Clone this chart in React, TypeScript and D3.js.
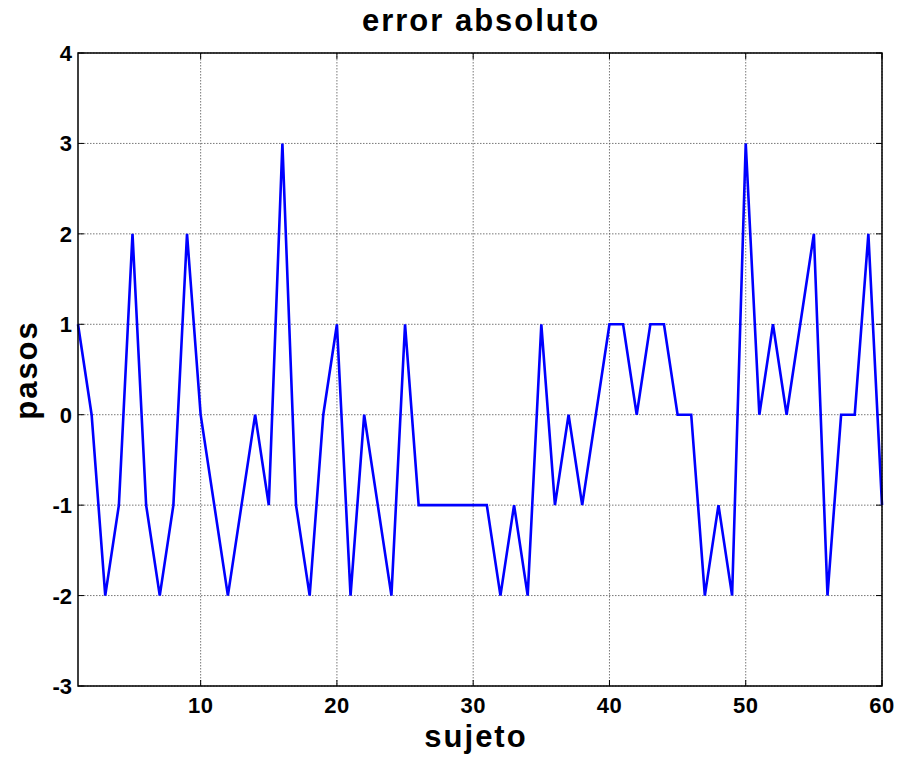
import React from "react";
import * as d3 from "d3";

const values = [1,0,-2,-1,2,-1,-2,-1,2,0,-1,-2,-1,0,-1,3,-1,-2,0,1,-2,0,-1,-2,1,-1,-1,-1,-1,-1,-1,-2,-1,-2,1,-1,0,-1,0,1,1,0,1,1,0,0,-2,-1,-2,3,0,1,0,1,2,-2,0,0,2,-1];
const xTicks = [10,20,30,40,50,60];
const yTicks = [-3,-2,-1,0,1,2,3,4];
const title = "error absoluto";
const xLabel = "sujeto";
const yLabel = "pasos";

export default function App() {
  const W = 901, H = 761;
  const L = 78, R = 882, T = 53, B = 686;
  const x = d3.scaleLinear().domain([1, 60]).range([L, R]);
  const y = d3.scaleLinear().domain([-3, 4]).range([B, T]);
  const pts = values.map((v, i) => [i + 1, v] as [number, number]);
  const line = d3.line<[number, number]>().x(d => x(d[0])).y(d => y(d[1]));
  const font = "Arial, 'Liberation Sans', Helvetica, sans-serif";
  return (
    <svg width={W} height={H} style={{ position: "absolute", left: 0, top: 0, background: "#fff" }}>
      <rect x={0} y={0} width={W} height={H} fill="#fff" />
      {xTicks.map(t => (
        <line key={"gx" + t} x1={x(t)} x2={x(t)} y1={T} y2={B} stroke="#555" strokeWidth={0.8} strokeDasharray="1.5,1.5" />
      ))}
      {yTicks.map(t => (
        <line key={"gy" + t} x1={L} x2={R} y1={y(t)} y2={y(t)} stroke="#555" strokeWidth={0.8} strokeDasharray="1.5,1.5" />
      ))}
      {xTicks.map(t => (
        <g key={"tx" + t}>
          <line x1={x(t)} x2={x(t)} y1={B} y2={B - 6} stroke="#000" strokeWidth={1} />
          <line x1={x(t)} x2={x(t)} y1={T} y2={T + 6} stroke="#000" strokeWidth={1} />
          <text x={x(t)} y={713} textAnchor="middle" fontFamily={font} fontWeight="bold" fontSize={22} letterSpacing={0.5}>{t}</text>
        </g>
      ))}
      {yTicks.map(t => (
        <g key={"ty" + t}>
          <line x1={L} x2={L + 6} y1={y(t)} y2={y(t)} stroke="#000" strokeWidth={1} />
          <line x1={R} x2={R - 6} y1={y(t)} y2={y(t)} stroke="#000" strokeWidth={1} />
          <text x={72} y={y(t) + 8} textAnchor="end" fontFamily={font} fontWeight="bold" fontSize={22}>{t}</text>
        </g>
      ))}
      <path d={line(pts) || ""} fill="none" stroke="#0000ff" strokeWidth={2.6} strokeLinejoin="miter" />
      <rect x={L} y={T} width={R - L} height={B - T} fill="none" stroke="#000" strokeWidth={1.5} />
      <text x={(L + R) / 2 + 1} y={31} textAnchor="middle" fontFamily={font} fontWeight="bold" fontSize={31} letterSpacing={2}>{title}</text>
      <text x={(L + R) / 2 - 4} y={747} textAnchor="middle" fontFamily={font} fontWeight="bold" fontSize={31} letterSpacing={2}>{xLabel}</text>
      <text transform={`translate(37, ${370}) rotate(-90)`} textAnchor="middle" fontFamily={font} fontWeight="bold" fontSize={31} letterSpacing={2}>{yLabel}</text>
    </svg>
  );
}
